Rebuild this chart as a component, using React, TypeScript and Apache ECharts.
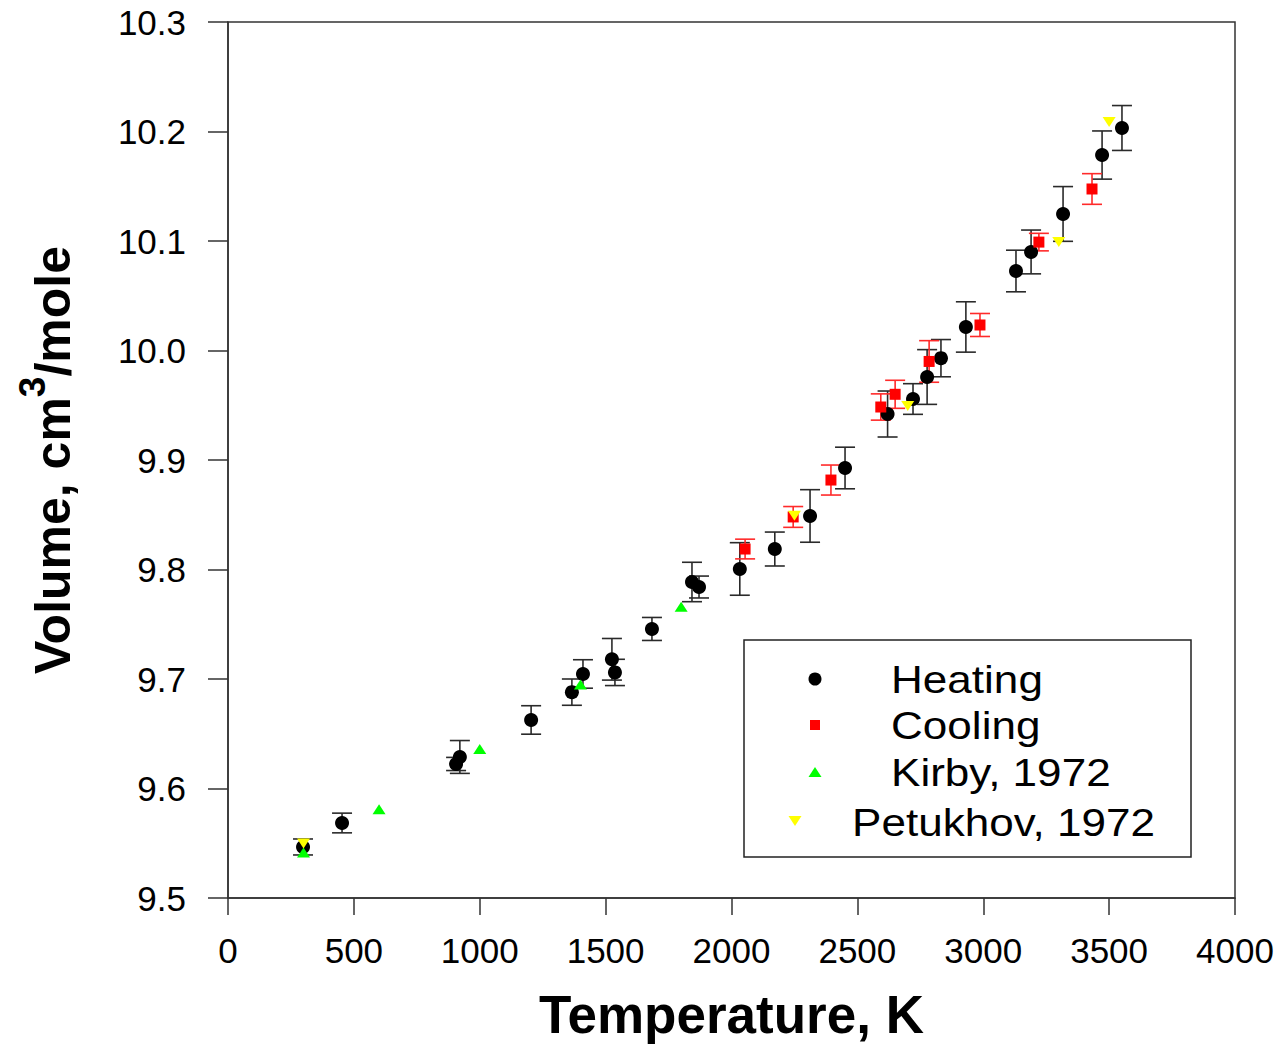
import React, { useEffect, useRef } from "react";
import * as echarts from "echarts";

const FONT = "'Liberation Sans', Arial, Helvetica, sans-serif";

const xTicks = [0, 500, 1000, 1500, 2000, 2500, 3000, 3500, 4000];
const yTicks = [9.5, 9.6, 9.7, 9.8, 9.9, 10.0, 10.1, 10.2, 10.3];

const heatingT = [298, 453, 906, 921, 1204, 1366, 1410, 1525, 1537, 1684, 1843, 1871, 2033, 2172, 2312, 2451, 2620, 2721, 2777, 2832, 2931, 3130, 3190, 3317, 3472, 3551];
const heatingV = [9.5466, 9.5685, 9.6224, 9.6288, 9.6626, 9.688, 9.7046, 9.718, 9.706, 9.7457, 9.7886, 9.784, 9.8005, 9.8187, 9.8489, 9.8927, 9.942, 9.9557, 9.9758, 9.993, 10.0215, 10.0726, 10.09, 10.1247, 10.1785, 10.2032];
const heatingErr = [0.0073, 0.009, 0.006, 0.015, 0.013, 0.012, 0.013, 0.019, 0.012, 0.0105, 0.018, 0.01, 0.024, 0.0155, 0.024, 0.019, 0.021, 0.014, 0.025, 0.017, 0.023, 0.019, 0.02, 0.025, 0.022, 0.0205];

const coolingT = [2054, 2245, 2395, 2593, 2650, 2785, 2987, 3221, 3432];
const coolingV = [9.8187, 9.848, 9.8817, 9.9484, 9.96, 9.99, 10.0233, 10.099, 10.1475];
const coolingErr = [0.009, 0.0095, 0.0137, 0.012, 0.0128, 0.019, 0.0105, 0.008, 0.014];

const kirbyT = [300, 600, 1000, 1400, 1800];
const kirbyV = [9.5416, 9.581, 9.636, 9.695, 9.766];

const petukhovT = [300, 2250, 2700, 3300, 3500];
const petukhovV = [9.5498, 9.849, 9.9493, 10.099, 10.2087];

const legendNames = ["Heating", "Cooling", "Kirby, 1972", "Petukhov, 1972"];

function errorBarSeries(ts: number[], vs: number[], errs: number[], color: string) {
  return {
    type: "custom",
    z: 1,
    silent: true,
    data: ts.map((t, i) => [t, vs[i] - errs[i], vs[i] + errs[i]]),
    renderItem: (params: any, api: any) => {
      const lo = api.coord([api.value(0), api.value(1)]);
      const hi = api.coord([api.value(0), api.value(2)]);
      const hw = 10;
      const style = { stroke: color, lineWidth: 1.6 };
      return {
        type: "group",
        children: [
          { type: "line", shape: { x1: lo[0], y1: lo[1], x2: hi[0], y2: hi[1] }, style },
          { type: "line", shape: { x1: lo[0] - hw, y1: lo[1], x2: lo[0] + hw, y2: lo[1] }, style },
          { type: "line", shape: { x1: hi[0] - hw, y1: hi[1], x2: hi[0] + hw, y2: hi[1] }, style },
        ],
      };
    },
  };
}

function pairs(ts: number[], vs: number[]) {
  return ts.map((t, i) => [t, vs[i]]);
}

export default function App() {
  const ref = useRef<HTMLDivElement>(null);
  useEffect(() => {
    if (!ref.current) return;
    const chart = echarts.init(ref.current, null, { renderer: "svg" });
    const axisColor = "#333";
    const legendText = (text: string, x: number, y: number) => ({
      type: "text",
      x,
      y,
      scaleX: 1.13,
      style: { text, font: `39px ${FONT}`, fill: "#000", textVerticalAlign: "middle", textAlign: "left" },
    });
    chart.setOption({
      animation: false,
      backgroundColor: "#fff",
      textStyle: { fontFamily: FONT },
      grid: { left: 228, right: 50, top: 22, bottom: 149, outerBoundsMode: "none", containLabel: false, show: true, borderColor: axisColor, borderWidth: 1.5, backgroundColor: "transparent" },
      xAxis: {
        type: "value",
        min: xTicks[0],
        max: xTicks[xTicks.length - 1],
        interval: 500,
        name: "Temperature, K",
        nameLocation: "middle",
        nameGap: 90,
        nameTextStyle: { fontSize: 53, lineHeight: 52, fontWeight: "bold", color: "#000", fontFamily: FONT },
        axisLine: { show: true, lineStyle: { color: axisColor, width: 1.5 } },
        axisTick: { show: true, inside: false, length: 17, lineStyle: { color: axisColor, width: 1.5 } },
        axisLabel: { fontSize: 35, color: "#000", margin: 35, fontFamily: FONT, formatter: (v: number) => String(v) },
        splitLine: { show: false },
      },
      yAxis: {
        type: "value",
        min: yTicks[0],
        max: yTicks[yTicks.length - 1],
        interval: 0.1,
        name: "{b|Volume, cm}{s|3}{b|/mole}",
        nameLocation: "middle",
        nameGap: 150,
        nameRotate: 90,
        nameTextStyle: {
          color: "#000",
          fontFamily: FONT,
          rich: {
            b: { fontSize: 50, fontWeight: "bold", color: "#000", fontFamily: FONT, lineHeight: 64, verticalAlign: "bottom" },
            s: { fontSize: 37, fontWeight: "bold", color: "#000", fontFamily: FONT, lineHeight: 40, verticalAlign: "top" },
          },
        },
        axisLine: { show: true, lineStyle: { color: axisColor, width: 1.5 } },
        axisTick: { show: true, inside: false, length: 20, lineStyle: { color: axisColor, width: 1.5 } },
        axisLabel: { fontSize: 35, color: "#000", margin: 42, fontFamily: FONT, formatter: (v: number) => v.toFixed(1) },
        splitLine: { show: false },
      },
      series: [
        errorBarSeries(heatingT, heatingV, heatingErr, "#2a2a2a"),
        errorBarSeries(coolingT, coolingV, coolingErr, "#ff2a2a"),
        { name: legendNames[0], type: "scatter", z: 3, symbol: "circle", symbolSize: 14, itemStyle: { color: "#000", opacity: 1 }, data: pairs(heatingT, heatingV) },
        { name: legendNames[1], type: "scatter", z: 4, symbol: "rect", symbolSize: 11, itemStyle: { color: "#ff0000", opacity: 1 }, data: pairs(coolingT, coolingV) },
        { name: legendNames[2], type: "scatter", z: 5, symbol: "triangle", symbolSize: [13, 10], itemStyle: { color: "#00ff00", opacity: 1 }, data: pairs(kirbyT, kirbyV) },
        { name: legendNames[3], type: "scatter", z: 5, symbol: "triangle", symbolRotate: 180, symbolSize: [13, 10], itemStyle: { color: "#ffff00", opacity: 1 }, data: pairs(petukhovT, petukhovV) },
      ],
      graphic: [
        { type: "rect", z: 10, shape: { x: 744, y: 640, width: 447, height: 217 }, style: { fill: "#fff", stroke: "#222", lineWidth: 1.5 } },
        { type: "circle", z: 11, shape: { cx: 815, cy: 679, r: 6.5 }, style: { fill: "#000" } },
        { type: "rect", z: 11, shape: { x: 810, y: 720, width: 10, height: 10 }, style: { fill: "#ff0000" } },
        { type: "polygon", z: 11, shape: { points: [[815, 767], [821.5, 777], [808.5, 777]] }, style: { fill: "#00ff00" } },
        { type: "polygon", z: 11, shape: { points: [[788.5, 816], [801.5, 816], [795, 826]] }, style: { fill: "#ffff00" } },
        { ...legendText(legendNames[0], 891, 679), z: 11 },
        { ...legendText(legendNames[1], 891, 725), z: 11 },
        { ...legendText(legendNames[2], 891, 772), z: 11 },
        { ...legendText(legendNames[3], 852, 822), z: 11 },
      ],
    });
    return () => chart.dispose();
  }, []);
  return <div ref={ref} style={{ position: "fixed", left: 0, top: 0, width: 1285, height: 1047 }} />;
}
